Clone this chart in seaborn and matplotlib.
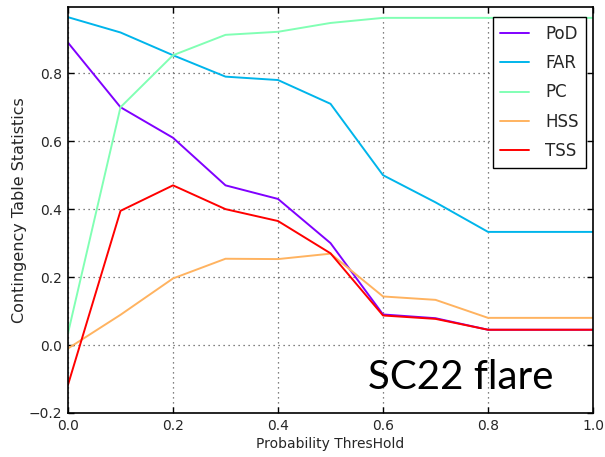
import numpy as np
import pandas as pd
import matplotlib
matplotlib.use("Agg")
import matplotlib.pyplot as plt
from matplotlib.lines import Line2D
import seaborn as sns

thresholds = [0.0, 0.1, 0.2, 0.3, 0.4, 0.5, 0.6, 0.7, 0.8, 0.9, 1.0]
pod = [0.89, 0.70, 0.61, 0.47, 0.43, 0.30, 0.090, 0.079, 0.045, 0.045, 0.045]
far = [0.965, 0.92, 0.853, 0.79, 0.78, 0.71, 0.50, 0.42, 0.333, 0.333, 0.333]
pc = [0.035, 0.70, 0.853, 0.913, 0.922, 0.948, 0.963, 0.963, 0.963, 0.963, 0.963]
hss = [-0.01, 0.089, 0.196, 0.254, 0.253, 0.269, 0.143, 0.133, 0.080, 0.080, 0.080]
tss = [-0.117, 0.395, 0.470, 0.400, 0.365, 0.270, 0.087, 0.077, 0.045, 0.045, 0.045]
series_names = ["PoD", "FAR", "PC", "HSS", "TSS"]
annotation = "SC22 flare"

sns.set_style("white")
plt.rcParams["font.family"] = ["DejaVu Sans"]
plt.rcParams["xtick.direction"] = "in"
plt.rcParams["ytick.direction"] = "in"

frames = []
for name, vals in zip(series_names, [pod, far, pc, hss, tss]):
    frames.append(pd.DataFrame({"threshold": thresholds, "value": vals, "metric": name}))
df = pd.concat(frames, ignore_index=True)

colors = [tuple(c) for c in plt.cm.rainbow(np.linspace(0, 1, 5))]
palette = dict(zip(series_names, colors))

fig = plt.figure(figsize=(6.05, 4.57), dpi=100)
ax = fig.add_axes([0.1124, 0.0963, 0.8678, 0.8884])
sns.lineplot(data=df, x="threshold", y="value", hue="metric", palette=palette,
             linewidth=1.4, ax=ax, legend=False, sort=False)

ax.set_xlim(0, 1.0)
ax.set_ylim(-0.2, 0.995)
ax.set_xticks([0.0, 0.2, 0.4, 0.6, 0.8, 1.0])
ax.set_yticks([-0.2, 0.0, 0.2, 0.4, 0.6, 0.8])
ax.grid(True, linestyle=(0, (1, 3)), color="0.35", linewidth=0.9)
ax.tick_params(axis="both", labelsize=10, length=4, width=1, color="black",
               top=True, right=True, bottom=True, left=True, pad=4)
for s in ax.spines.values():
    s.set_color("black")
    s.set_linewidth(1.2)
ax.set_xlabel("Probability ThresHold", fontsize=10, labelpad=3)
ax.set_ylabel("Contingency Table Statistics", fontsize=11.5, labelpad=1.5)

handles = [Line2D([0], [0], color=palette[n], linewidth=1.4) for n in series_names]
leg = ax.legend(handles, series_names, loc="upper right", fontsize=12,
                bbox_to_anchor=(586 / 605, 1 - 17.3 / 457), bbox_transform=fig.transFigure,
                frameon=True, fancybox=False, framealpha=1, edgecolor="black",
                borderaxespad=0, handlelength=1.75, labelspacing=0.68,
                borderpad=0.45, handletextpad=0.95)
leg.get_frame().set_linewidth(1.0)

fig.text(368 / 605, 1 - 389 / 457, annotation, fontsize=29, family=["Lato", "DejaVu Sans"],
         ha="left", va="baseline", color="black")

fig.savefig("out.png", dpi=100)
